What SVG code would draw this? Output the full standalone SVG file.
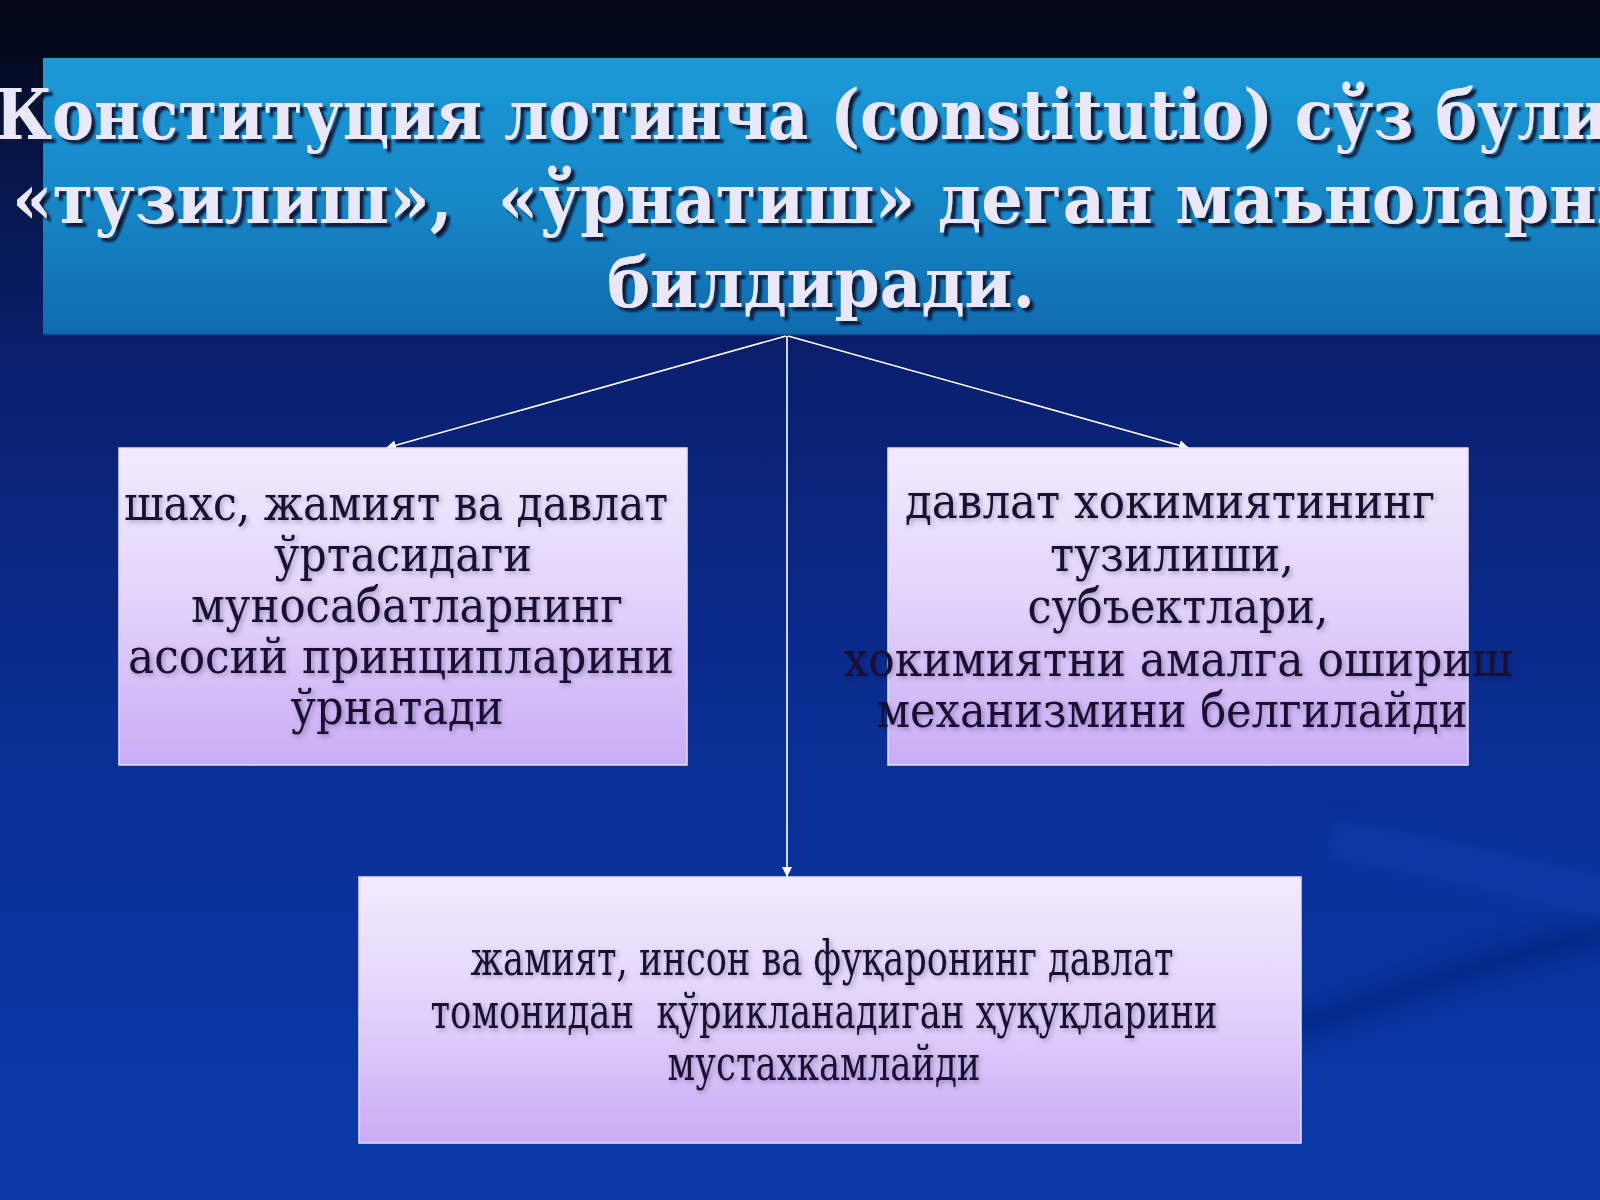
<svg xmlns="http://www.w3.org/2000/svg" width="1600" height="1200" viewBox="0 0 1600 1200">
<defs>
  <linearGradient id="bg" x1="0" y1="0" x2="0" y2="1">
    <stop offset="0" stop-color="#020716"/>
    <stop offset="0.047" stop-color="#030a20"/>
    <stop offset="0.12" stop-color="#061444"/>
    <stop offset="0.3" stop-color="#0a1f6e"/>
    <stop offset="0.6" stop-color="#0a2e94"/>
    <stop offset="1" stop-color="#0a3aa8"/>
  </linearGradient>
  <linearGradient id="band" x1="0" y1="0" x2="0" y2="1">
    <stop offset="0" stop-color="#1d9ad8"/>
    <stop offset="0.55" stop-color="#1685c6"/>
    <stop offset="1" stop-color="#0f6bae"/>
  </linearGradient>
  <linearGradient id="box" x1="0" y1="0" x2="0" y2="1">
    <stop offset="0" stop-color="#f4eafd"/>
    <stop offset="0.5" stop-color="#e2d2fb"/>
    <stop offset="1" stop-color="#c9acf6"/>
  </linearGradient>
  <filter id="tshadow" x="-5%" y="-20%" width="110%" height="150%">
    <feDropShadow dx="4" dy="4" stdDeviation="1.2" flood-color="#0c1230" flood-opacity="0.95"/>
  </filter>
  <filter id="bshadow" x="-10%" y="-30%" width="120%" height="160%">
    <feDropShadow dx="2" dy="2" stdDeviation="2.5" flood-color="#05082a" flood-opacity="0.3"/>
  </filter>
  <filter id="blur" x="-20%" y="-50%" width="140%" height="200%">
    <feGaussianBlur stdDeviation="10"/>
  </filter>
  <marker id="arr" viewBox="0 0 10 10" refX="10" refY="5" markerWidth="10" markerHeight="10" markerUnits="userSpaceOnUse" orient="auto">
    <path d="M0,0 L10,5 L0,10 z" fill="#ffffff"/>
  </marker>
  <style>
    .title { font-family: "DejaVu Serif Condensed", "DejaVu Serif", serif; font-weight: bold; font-size: 70px; fill: #e9e7f8; white-space: pre; }
    .bt { font-family: "DejaVu Serif Condensed", "DejaVu Serif", serif; font-size: 48px; fill: #1a1030; text-anchor: middle; white-space: pre; }
    .node rect { fill: url(#box); stroke: #e8def9; stroke-width: 1.5; }
    .conn line { stroke: #ffffff; stroke-width: 1.6; marker-end: url(#arr); }
  </style>
</defs>

<!-- background -->
<rect x="0" y="0" width="1600" height="1200" fill="url(#bg)"/>
<g filter="url(#blur)" opacity="0.5">
  <path d="M1290,1030 C1380,1000 1480,960 1620,930" stroke="#061e72" stroke-width="26" fill="none"/>
  <path d="M1330,840 C1420,850 1520,880 1620,900" stroke="#1a4cc0" stroke-width="40" fill="none" opacity="0.5"/>
</g>

<!-- title band -->
<g id="title">
  <rect x="43" y="58" width="1557" height="277" fill="url(#band)"/>
  <line x1="43" y1="334.5" x2="1600" y2="334.5" stroke="#0a4f8c" stroke-width="1.5"/>
  <g filter="url(#tshadow)">
    <text class="title" x="-5" y="139" textLength="1655" lengthAdjust="spacingAndGlyphs">Конституция лотинча (constitutio) сўз булиб</text>
    <text class="title" x="12" y="223" textLength="1633" lengthAdjust="spacingAndGlyphs">«тузилиш»,  «ўрнатиш» деган маъноларни</text>
    <text class="title" x="607" y="307" textLength="428" lengthAdjust="spacingAndGlyphs">билдиради.</text>
  </g>
</g>

<!-- connectors -->
<g id="connectors" class="conn">
  <line x1="786" y1="336" x2="386" y2="448"/>
  <line x1="788" y1="336" x2="1189" y2="448"/>
  <line x1="787" y1="336" x2="787" y2="877"/>
</g>

<!-- left node -->
<g id="node-left" class="node">
  <rect x="119" y="448" width="568" height="317"/>
  <g filter="url(#bshadow)">
    <text class="bt" x="396" y="520" textLength="544" lengthAdjust="spacingAndGlyphs">шахс, жамият ва давлат</text>
    <text class="bt" x="403" y="571" textLength="258" lengthAdjust="spacingAndGlyphs">ўртасидаги</text>
    <text class="bt" x="407" y="622" textLength="432" lengthAdjust="spacingAndGlyphs">муносабатларнинг</text>
    <text class="bt" x="401" y="673" textLength="546" lengthAdjust="spacingAndGlyphs">асосий принципларини</text>
    <text class="bt" x="397" y="724" textLength="213" lengthAdjust="spacingAndGlyphs">ўрнатади</text>
  </g>
</g>

<!-- right node -->
<g id="node-right" class="node">
  <rect x="888" y="448" width="580" height="317"/>
  <g filter="url(#bshadow)">
    <text class="bt" x="1170" y="518" textLength="530" lengthAdjust="spacingAndGlyphs">давлат хокимиятининг</text>
    <text class="bt" x="1172" y="571" textLength="244" lengthAdjust="spacingAndGlyphs">тузилиши,</text>
    <text class="bt" x="1178" y="623" textLength="301" lengthAdjust="spacingAndGlyphs">субъектлари,</text>
    <text class="bt" x="1178" y="676" textLength="669" lengthAdjust="spacingAndGlyphs">хокимиятни амалга ошириш</text>
    <text class="bt" x="1172" y="727" textLength="591" lengthAdjust="spacingAndGlyphs">механизмини белгилайди</text>
  </g>
</g>

<!-- bottom node -->
<g id="node-bottom" class="node">
  <rect x="359" y="877" width="942" height="266"/>
  <g filter="url(#bshadow)">
    <text class="bt" x="822" y="975" textLength="703" lengthAdjust="spacingAndGlyphs">жамият, инсон ва фуқаронинг давлат</text>
    <text class="bt" x="824" y="1028" textLength="787" lengthAdjust="spacingAndGlyphs">томонидан  қўрикланадиган ҳуқуқларини</text>
    <text class="bt" x="824" y="1080" textLength="313" lengthAdjust="spacingAndGlyphs">мустахкамлайди</text>
  </g>
</g>
</svg>
